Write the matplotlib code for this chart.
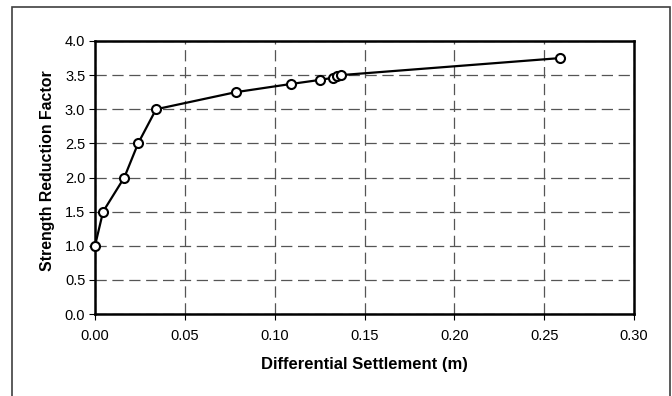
import numpy as np
import matplotlib.pyplot as plt
from matplotlib.patches import Rectangle

# Data
settlement = [0.0, 0.0045, 0.0163, 0.024, 0.034, 0.0783, 0.109, 0.1252,
              0.1322, 0.1348, 0.1368, 0.259]
srf = [1.0, 1.5, 2.0, 2.5, 3.0, 3.25, 3.37, 3.43, 3.46, 3.48, 3.50, 3.75]

x_ticks = [0.0, 0.05, 0.10, 0.15, 0.20, 0.25, 0.30]
y_ticks = [0.0, 0.5, 1.0, 1.5, 2.0, 2.5, 3.0, 3.5, 4.0]

plt.rcParams['font.family'] = ['Liberation Sans', 'DejaVu Sans']

W, H = 672, 396
fig = plt.figure(figsize=(W / 100, H / 100), dpi=100)
ax = fig.add_axes([95 / W, 1 - 314 / H, (634 - 95) / W, (314 - 41) / H])

# outer chart frame (bottom edge falls outside the image)
fig.patches.append(Rectangle((12 / W, -0.05), (670 - 12) / W, 1.05 - 7 / H,
                             transform=fig.transFigure, fill=False,
                             edgecolor='#404040', linewidth=1.2))

ax.plot(settlement, srf, color='black', linewidth=1.6, marker='o',
        markersize=6.5, markerfacecolor='white', markeredgecolor='black',
        markeredgewidth=1.5, zorder=5, clip_on=False)

ax.set_xlim(0, 0.30)
ax.set_ylim(0, 4.0)
ax.set_xticks(x_ticks)
ax.set_yticks(y_ticks)
ax.set_xticklabels(["%.2f" % v for v in x_ticks])
ax.set_yticklabels(["%.1f" % v for v in y_ticks])
ax.tick_params(direction='out', length=4, width=0.8, labelsize=10.5, color='black')
ax.tick_params(axis='x', pad=7)
ax.tick_params(axis='y', pad=3)

ax.grid(True, color='#555555', linestyle=(0, (9, 4.5)), linewidth=0.9)
ax.set_axisbelow(True)

for side in ['left', 'bottom', 'top', 'right']:
    ax.spines[side].set_linewidth(1.8)
    ax.spines[side].set_color('black')

ax.set_xlabel("Differential Settlement (m)", fontsize=12, fontweight='bold', labelpad=10)
ax.set_ylabel("Strength Reduction Factor", fontsize=11.4, fontweight='bold')
ax.yaxis.set_label_coords(-0.075, 0.526)

plt.savefig("out.png", dpi=100)
